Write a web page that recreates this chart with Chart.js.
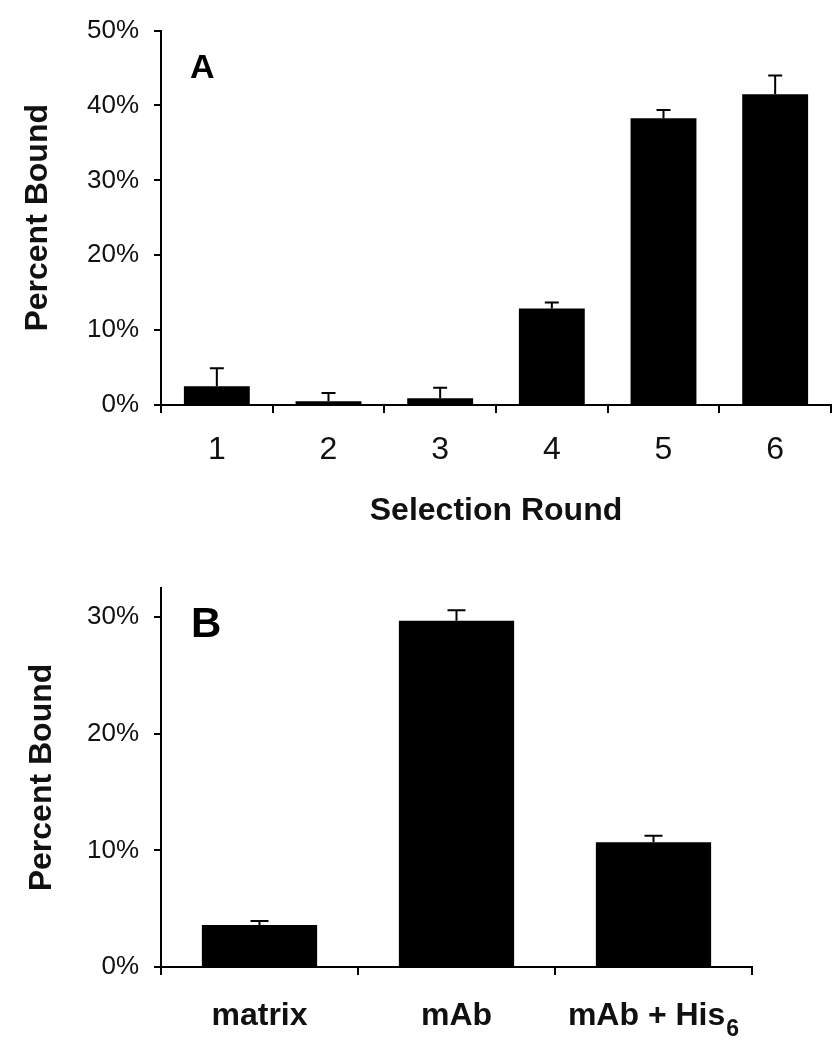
<!DOCTYPE html>
<html>
<head>
<meta charset="utf-8">
<script src="https://cdn.jsdelivr.net/npm/chart.js@4/dist/chart.umd.min.js"></script>
<style>
  body { margin: 0; background: #fff; }
  #wrap { position: relative; width: 840px; height: 1050px; }
  canvas { display: block; }
  .panel { position: absolute; font-family: 'Liberation Sans', Arial, sans-serif; font-weight: bold; line-height: 1; color: #000; }
</style>
</head>
<body>
<div id="wrap">
  <canvas id="chart_a" width="840" height="540"></canvas>
  <canvas id="chart_b" width="840" height="510"></canvas>
  <div class="panel" style="left:190px; top:49px; font-size:34px;">A</div>
  <div class="panel" style="left:191px; top:602px; font-size:42px;">B</div>
</div>
<script>
// panel A: binding after each selection round
var roundLabels = ["1", "2", "3", "4", "5", "6"];
var roundBound = [2.5, 0.5, 0.9, 12.9, 38.3, 41.5];
var roundErr = [2.4, 1.1, 1.4, 0.8, 1.1, 2.5];

// panel B: binding controls (subscript part kept apart so it can be drawn lowered)
var condLabels = ["matrix", "mAb", "mAb + His"];
var condSub = ["", "", "6"];
var condBound = [3.6, 29.7, 10.7];
var condErr = [0.35, 0.9, 0.55];

var FONT = "'Liberation Sans', Arial, sans-serif";
Chart.defaults.font.family = FONT;
Chart.defaults.color = "#111";

// upper error bars, drawn on top of the bars
var errorBars = {
    id: 'errorBars',
    afterDatasetsDraw: function (chart, args, opts) {
        var ctx = chart.ctx;
        var y = chart.scales.y;
        var ds = chart.data.datasets[0];
        var meta = chart.getDatasetMeta(0);
        ctx.save();
        ctx.strokeStyle = "#000";
        ctx.lineWidth = 2;
        meta.data.forEach(function (bar, i) {
            var top = y.getPixelForValue(ds.data[i] + ds.errors[i]);
            var base = y.getPixelForValue(ds.data[i]);
            ctx.beginPath();
            ctx.moveTo(bar.x, base);
            ctx.lineTo(bar.x, top);
            ctx.moveTo(bar.x - opts.cap / 2, top);
            ctx.lineTo(bar.x + opts.cap / 2, top);
            ctx.stroke();
        });
        ctx.restore();
    }
};

// category labels with a subscript, placed at the x scale's tick positions
var subLabels = {
    id: 'subLabels',
    afterDraw: function (chart, args, opts) {
        var ctx = chart.ctx;
        var x = chart.scales.x;
        var base = x.top + opts.offset;
        ctx.save();
        ctx.fillStyle = "#111";
        ctx.textBaseline = "alphabetic";
        chart.data.labels.forEach(function (lab, i) {
            var sub = opts.subs[i] || "";
            ctx.font = "bold 32px " + FONT;
            var w1 = ctx.measureText(lab).width;
            ctx.font = "bold 23px " + FONT;
            var w2 = sub ? ctx.measureText(sub).width + 1 : 0;
            var cx = x.getPixelForTick(i);
            var left = cx - (w1 + w2) / 2;
            ctx.textAlign = "left";
            ctx.font = "bold 32px " + FONT;
            ctx.fillText(lab, left, base);
            if (sub) {
                ctx.font = "bold 23px " + FONT;
                ctx.fillText(sub, left + w1 + 1, base + 11);
            }
        });
        ctx.restore();
    }
};

function axisLine() {
    return {
        display: true,
        drawOnChartArea: false,
        drawTicks: true,
        tickLength: 8,
        color: "#000",
        lineWidth: 2
    };
}

var ctxa = document.getElementById("chart_a").getContext("2d");

new Chart(ctxa, {
    type: 'bar',
    data: {
        labels: roundLabels,
        datasets: [{
            data: roundBound,
            errors: roundErr,
            backgroundColor: "#000",
            borderWidth: 0,
            categoryPercentage: 1,
            barPercentage: 0.59
        }]
    },
    plugins: [errorBars],
    options: {
        responsive: false,
        animation: false,
        layout: { padding: { top: 28, right: 9, left: 0, bottom: 0 } },
        plugins: {
            legend: { display: false },
            tooltip: { enabled: false },
            errorBars: { cap: 14 }
        },
        scales: {
            x: {
                grid: axisLine(),
                border: { color: "#000", width: 2 },
                ticks: { font: { size: 32 }, padding: 18, color: "#111" },
                title: {
                    display: true,
                    text: "Selection Round",
                    font: { size: 32, weight: 'bold' },
                    color: "#111",
                    padding: { top: 0, bottom: 10 }
                },
                afterFit: function (scale) { scale.height = 135; }
            },
            y: {
                min: 0,
                max: 50,
                grid: Object.assign(axisLine(), { tickLength: 7 }),
                border: { color: "#000", width: 2 },
                ticks: {
                    stepSize: 10,
                    font: { size: 26 },
                    padding: 15,
                    color: "#111",
                    callback: function (v) { return v + "%"; }
                },
                title: {
                    display: true,
                    text: "Percent Bound",
                    font: { size: 32, weight: 'bold' },
                    color: "#111",
                    padding: { top: 19, bottom: 0 }
                },
                afterFit: function (scale) { scale.width = 161; }
            }
        }
    }
});

var ctxb = document.getElementById("chart_b").getContext("2d");

new Chart(ctxb, {
    type: 'bar',
    data: {
        labels: condLabels,
        datasets: [{
            data: condBound,
            errors: condErr,
            backgroundColor: "#000",
            borderWidth: 0,
            categoryPercentage: 1,
            barPercentage: 0.585
        }]
    },
    plugins: [errorBars, subLabels],
    options: {
        responsive: false,
        animation: false,
        layout: { padding: { top: 48, right: 88, left: 0, bottom: 0 } },
        plugins: {
            legend: { display: false },
            tooltip: { enabled: false },
            errorBars: { cap: 18 },
            subLabels: { subs: condSub, offset: 58 }
        },
        scales: {
            x: {
                grid: axisLine(),
                border: { color: "#000", width: 2 },
                ticks: { display: false },
                afterFit: function (scale) { scale.height = 83; }
            },
            y: {
                min: 0,
                max: 32.5,
                grid: Object.assign(axisLine(), { tickLength: 7 }),
                border: { color: "#000", width: 2 },
                ticks: {
                    stepSize: 10,
                    includeBounds: false,
                    font: { size: 26 },
                    padding: 15,
                    color: "#111",
                    callback: function (v) { return v + "%"; }
                },
                title: {
                    display: true,
                    text: "Percent Bound",
                    font: { size: 32, weight: 'bold' },
                    color: "#111",
                    padding: { top: 23, bottom: 0 }
                },
                afterFit: function (scale) { scale.width = 161; }
            }
        }
    }
});
</script>
</body>
</html>
